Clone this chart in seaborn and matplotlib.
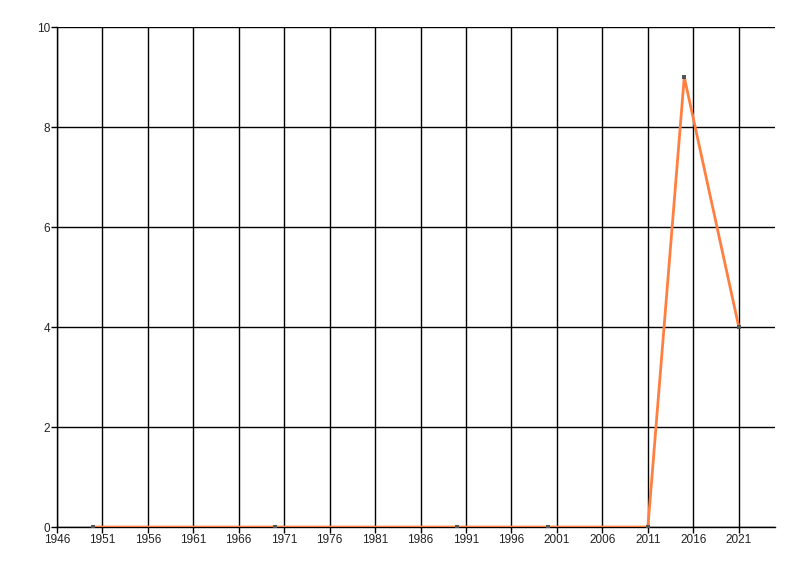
import matplotlib
matplotlib.use('Agg')
import matplotlib.pyplot as plt
import seaborn as sns
import pandas as pd
import numpy as np

years = [1950, 1970, 1990, 2000, 2011, 2015, 2021]
counts = [0, 0, 0, 0, 0, 9, 4]
x_ticks = list(range(1946, 2022, 5))
y_ticks = [0, 2, 4, 6, 8, 10]

df = pd.DataFrame({'year': years, 'count': counts})

sns.set_style('white')
plt.rcParams['font.family'] = ['Liberation Sans', 'DejaVu Sans']

fig = plt.figure(figsize=(8, 5.76), dpi=100)
ax = fig.add_axes([0.071, 0.085, 0.898, 0.868])

sns.lineplot(data=df, x='year', y='count', ax=ax, color='#FF7F40',
             linewidth=2, marker='s', markersize=2.5,
             markerfacecolor='#555555', markeredgewidth=0, zorder=3)

ax.set_xlim(1946, 2025)
ax.set_ylim(0, 10)
ax.set_xticks(x_ticks)
ax.set_yticks(y_ticks)
ax.grid(True, color='black', linewidth=1)
ax.set_axisbelow(True)
for s in ['top', 'right']:
    ax.spines[s].set_visible(False)
for s in ['left', 'bottom']:
    ax.spines[s].set_color('black')
    ax.spines[s].set_linewidth(1)
ax.tick_params(axis='both', length=4, width=1, color='black',
               labelsize=8.5, labelcolor='#222222', direction='out',
               bottom=True, left=True, pad=1)
ax.set_xlabel('')
ax.set_ylabel('')

fig.savefig('out.png', dpi=100)
